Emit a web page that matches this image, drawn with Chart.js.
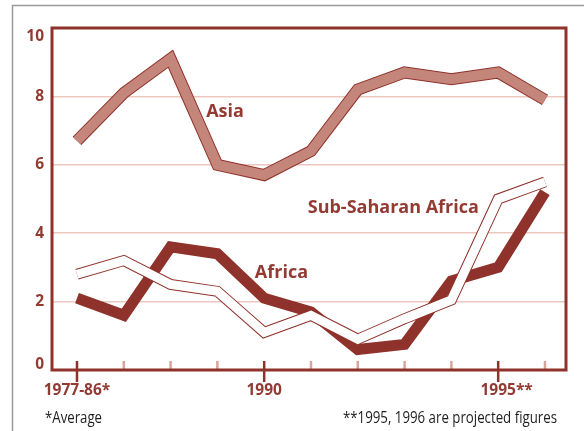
<!DOCTYPE html>
<html>
<head>
<meta charset="utf-8">
<style>
html,body{margin:0;padding:0;background:#fff;overflow:hidden}
canvas{display:block}
</style>
<script src="https://cdn.jsdelivr.net/npm/chart.js@4/dist/chart.umd.min.js"></script>
</head>
<body>
<canvas id="c" width="584" height="431"></canvas>
<script>
// ---- data ----
const categories = ['1977-86*','1987','1988','1989','1990','1991','1992','1993','1994','1995**','1996'];
const tickLabels = ['1977-86*','','','','1990','','','','','1995**',''];
const asia       = [6.7, 8.1, 9.1, 6.0, 5.7, 6.4, 8.2, 8.7, 8.5, 8.7, 7.9];
const africa     = [2.1, 1.6, 3.6, 3.4, 2.1, 1.7, 0.6, 0.75, 2.6, 3.0, 5.2];
const subSaharan = [2.8, 3.2, 2.5, 2.3, 1.1, 1.6, 0.9, 1.5, 2.05, 5.0, 5.5];
const yTicks     = [0, 2, 4, 6, 8, 10];
const seriesNames = ['Asia', 'Africa', 'Sub-Saharan Africa'];
const footLeft  = '*Average';
const footRight = '**1995, 1996 are projected figures';

// ---- styles ----
const DARK = '#8F322B';
const TEXT = '#933A33';
const ASIA_FILL = '#C4857A';
const GRID = '#EBC7BD';
const MINOR = '#D9A49B';
const BOLD = '"Open Sans", "DejaVu Sans", sans-serif';
const NOTE = '"Open Sans", "DejaVu Sans", sans-serif';

function pts(arr){ return arr.map((v,i)=>({x:i, y:v})); }
function line(data, color, width, order){
  return {data: pts(data), borderColor: color, borderWidth: width, pointRadius: 0,
          tension: 0, fill: false, borderJoinStyle: 'miter', borderCapStyle: 'butt', order};
}

// draw text squeezed horizontally to a given width (condensed look)
function condensedText(ctx, text, x, y, align, width){
  const w = ctx.measureText(text).width;
  const sx = Math.min(1, width / w);
  ctx.save();
  ctx.textAlign = 'left';
  const left = align === 'right' ? x - w * sx : x;
  ctx.translate(left, y);
  ctx.scale(sx, 1);
  ctx.fillText(text, 0, 0);
  ctx.restore();
}

const decor = {
  id: 'decor',
  beforeDraw(chart){
    const ctx = chart.ctx;
    ctx.save();
    ctx.strokeStyle = '#9a9a9a';
    ctx.lineWidth = 1.5;
    ctx.beginPath();
    ctx.moveTo(12.5, 431); ctx.lineTo(12.5, 5.5); ctx.lineTo(584, 5.5);
    ctx.stroke();
    ctx.restore();
  },
  afterDraw(chart){
    const {ctx, chartArea: a, scales: {x, y}} = chart;
    ctx.save();
    // x tick marks
    categories.forEach((c, i) => {
      const px = x.getPixelForValue(i);
      const major = tickLabels[i] !== '';
      ctx.strokeStyle = major ? DARK : MINOR;
      ctx.lineWidth = 2.5;
      ctx.beginPath();
      ctx.moveTo(px, a.bottom - 9);
      ctx.lineTo(px, major ? a.bottom + 12 : a.bottom);
      ctx.stroke();
    });
    // plot frame
    ctx.strokeStyle = DARK;
    ctx.lineWidth = 3;
    ctx.strokeRect(a.left, a.top, a.right - a.left, a.bottom - a.top);

    // x labels
    ctx.fillStyle = TEXT;
    ctx.font = 'bold 15.5px ' + BOLD;
    ctx.textBaseline = 'middle';
    ctx.textAlign = 'center';
    tickLabels.forEach((t, i) => {
      if (!t) return;
      const px = x.getPixelForValue(i);
      if (t.endsWith('**')) {
        const core = t.slice(0, -2);
        const w = ctx.measureText(core).width;
        ctx.textAlign = 'left';
        ctx.fillText(t, px - w / 2, a.bottom + 21);
        ctx.textAlign = 'center';
      } else {
        ctx.fillText(t, px, a.bottom + 21);
      }
    });
    // y labels
    ctx.textAlign = 'right';
    yTicks.forEach(v => {
      let py = y.getPixelForValue(v);
      py = Math.min(Math.max(py, a.top + 9), a.bottom - 5);
      ctx.fillText(String(v), a.left - 8, py);
    });
    // series annotations
    ctx.font = 'bold 18px ' + BOLD;
    ctx.textAlign = 'left';
    ctx.fillText(seriesNames[0], x.getPixelForValue(2.76), y.getPixelForValue(7.55));
    ctx.fillText(seriesNames[1], x.getPixelForValue(3.8), y.getPixelForValue(2.83));
    ctx.fillText(seriesNames[2], x.getPixelForValue(4.93), y.getPixelForValue(4.73));
    // footnotes
    ctx.fillStyle = '#1e1e1e';
    ctx.font = '16px ' + NOTE;
    condensedText(ctx, footLeft, 45, 418, 'left', 57);
    condensedText(ctx, footRight, 557, 418, 'right', 214);
    ctx.restore();
  }
};

new Chart(document.getElementById('c'), {
  type: 'line',
  data: {
    datasets: [
      line(asia, DARK, 12, 6),
      line(asia, ASIA_FILL, 10, 5),
      line(africa, DARK, 11, 4),
      line(subSaharan, DARK, 11, 3),
      line(subSaharan, '#ffffff', 9, 2)
    ]
  },
  options: {
    responsive: false,
    animation: false,
    devicePixelRatio: 1,
    layout: {padding: {left: 52, top: 28, right: 18, bottom: 61}},
    plugins: {legend: {display: false}, tooltip: {enabled: false}},
    scales: {
      x: {
        type: 'linear', min: -0.534, max: 10.449,
        afterBuildTicks: s => { s.ticks = categories.map((c, i) => ({value: i})); },
        grid: {display: false, drawTicks: false},
        border: {display: false},
        ticks: {display: false}
      },
      y: {
        type: 'linear', min: 0, max: 10,
        afterBuildTicks: s => { s.ticks = yTicks.map(v => ({value: v})); },
        grid: {
          color: c => (c.tick && (c.tick.value === 0 || c.tick.value === 10)) ? 'rgba(0,0,0,0)' : GRID,
          lineWidth: 1.5, drawTicks: false
        },
        border: {display: false},
        ticks: {display: false}
      }
    }
  },
  plugins: [decor]
});
</script>
</body>
</html>
